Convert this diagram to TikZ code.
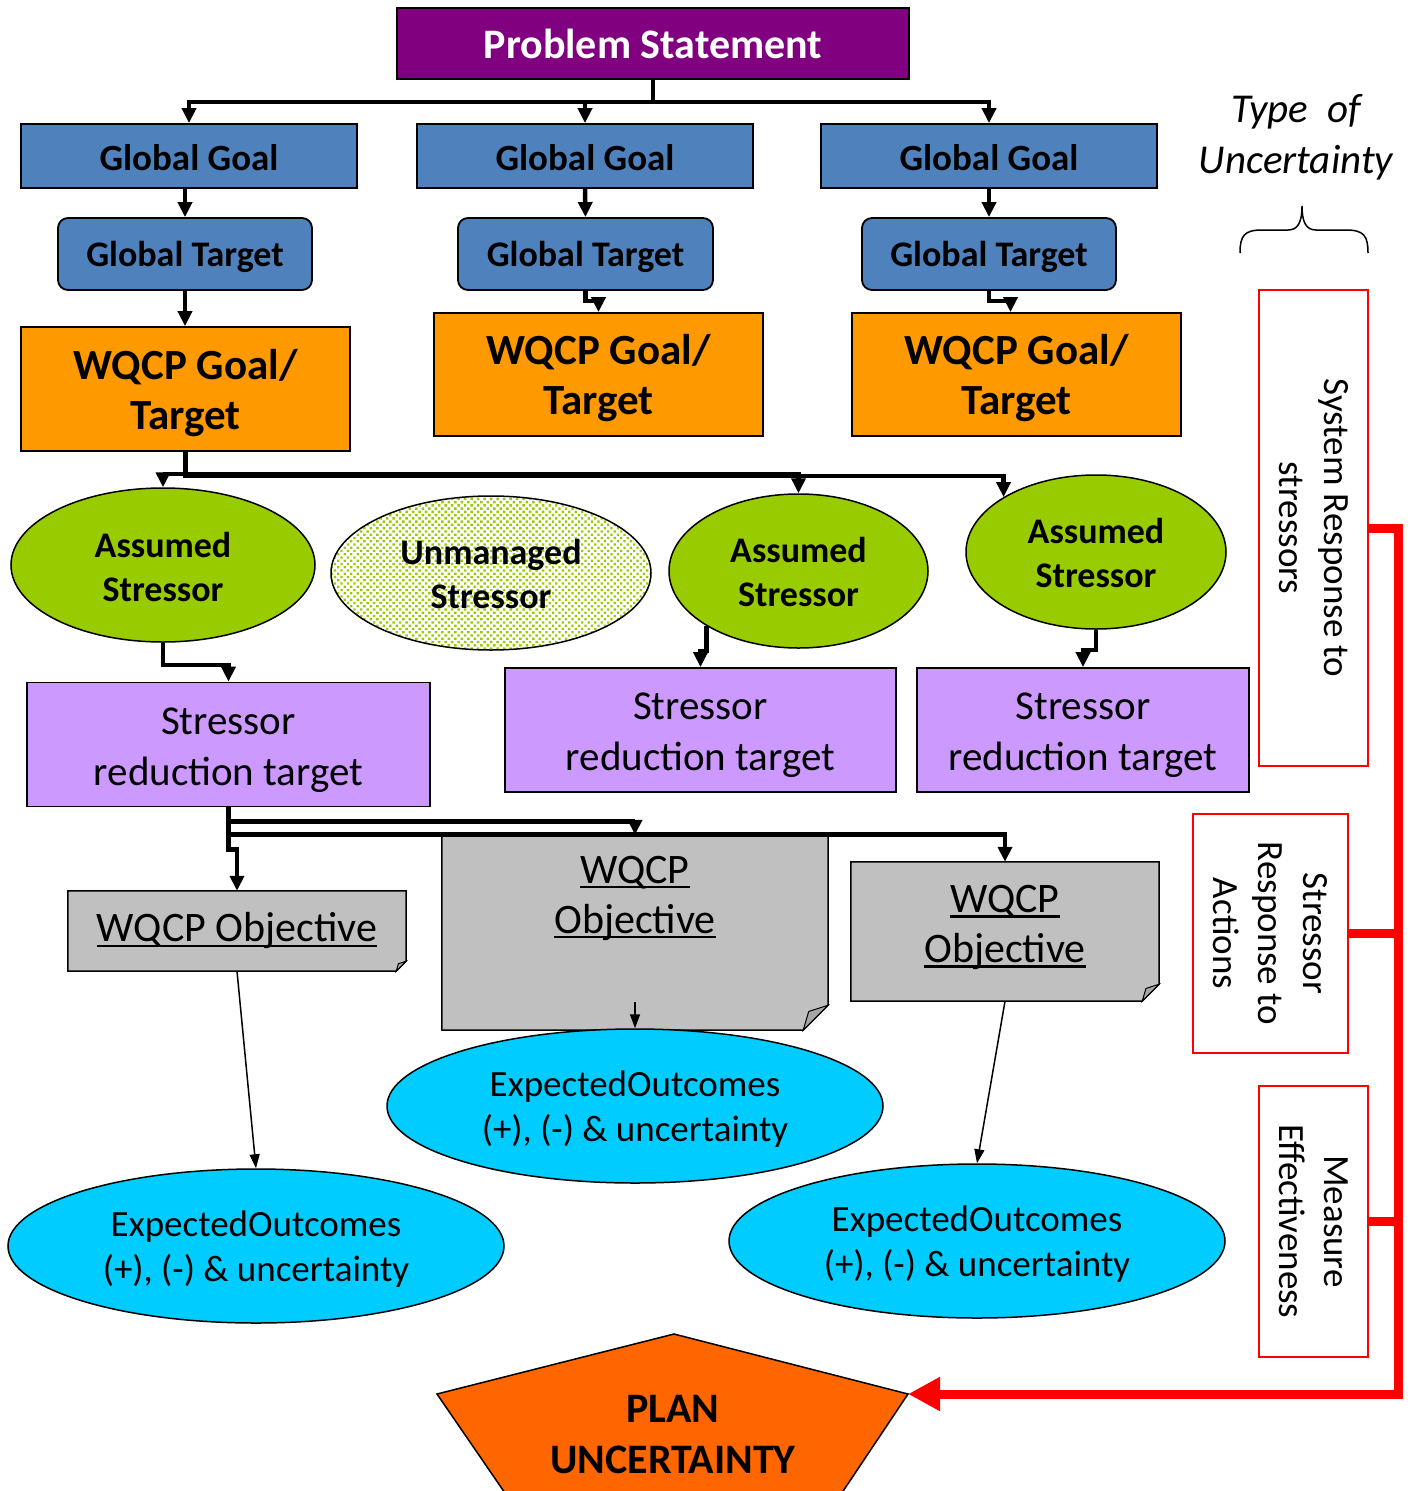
\documentclass[tikz,border=0pt]{standalone}
\usepackage{fontspec}
\setmainfont{Carlito}
\usetikzlibrary{arrows.meta,shapes.geometric,patterns.meta,backgrounds}
\definecolor{cPurple}{HTML}{800080}
\definecolor{cBlue}{HTML}{4F81BD}
\definecolor{cOrange}{HTML}{FF9900}
\definecolor{cGreen}{HTML}{99CC00}
\definecolor{cLilac}{HTML}{CC99FF}
\definecolor{cGray}{HTML}{C0C0C0}
\definecolor{cFold}{HTML}{A6A6A6}
\definecolor{cCyan}{HTML}{00CCFF}
\definecolor{cPlan}{HTML}{FF6600}
\definecolor{cRed}{HTML}{FF0000}
\newsavebox\ulbox
\newcommand\myul[1]{\sbox\ulbox{#1}\rlap{\rule[-5pt]{\wd\ulbox}{2.4pt}}\usebox\ulbox}
\newcommand\fs[2]{\fontsize{#1}{#2}\selectfont}
% text lines, lowered by #1 pt without changing the box used for centring
\newcommand\tl[2]{\raisebox{-#1pt}[\height][\depth]{\begin{tabular}{@{}c@{}}#2\end{tabular}}}
\newcommand\foldshape[2]{%
  \begin{pgfonlayer}{background}
  \path[fill=cGray,draw=black,line width=1.5pt] (#1.north west) -- (#1.north east)
     -- ([yshift=#2pt]#1.south east) -- ([xshift=-#2pt]#1.south east) -- (#1.south west) -- cycle;
  \path[fill=cFold,draw=black,line width=1pt] ([yshift=#2pt]#1.south east)
     -- ([xshift={-0.78*#2pt},yshift={0.75*#2pt}]#1.south east) -- ([xshift=-#2pt]#1.south east) -- cycle;
  \end{pgfonlayer}}
\tikzset{
  box/.style={draw=black,line width=1.8pt,inner sep=0pt,align=center},
  psbox/.style={box,fill=cPurple,text=white,font=\bfseries\fs{42}{50}},
  ggbox/.style={box,fill=cBlue,minimum width=336pt,minimum height=64pt,font=\bfseries\fs{37}{44}},
  gtbox/.style={box,fill=cBlue,rounded corners=10pt,minimum width=254pt,minimum height=72pt,font=\bfseries\fs{36}{44}},
  wqbox/.style={box,fill=cOrange,minimum width=329pt,minimum height=123pt,font=\bfseries\fs{43}{50}},
  stbase/.style={box,ellipse,line width=1.5pt,minimum height=154pt,font=\bfseries\fs{36}{44}},
  stbox/.style={stbase,fill=cGreen},
  srbox/.style={box,fill=cLilac,minimum height=124pt,font=\fs{41}{51}},
  objbox/.style={inner sep=0pt,align=center,font=\fs{42}{50}},
  eobox/.style={box,ellipse,fill=cCyan,line width=1.5pt,minimum width=496pt,minimum height=154pt,font=\fs{37}{45}},
  rbox/.style={draw=cRed,line width=2pt,fill=white,rotate=-90,inner sep=0pt,align=center,font=\fs{37}{45}},
  conn/.style={line width=4.5pt,-{Triangle[length=15pt,width=14pt]}},
  thinarrow/.style={line width=1.5pt,-{Triangle[length=14pt,width=10pt]}},
  redline/.style={draw=cRed,line width=9pt},
}
\begin{document}
\begin{tikzpicture}[x=1pt,y=-1pt]
\useasboundingbox (0,0) rectangle (1414,1491);
\clip (0,0) rectangle (1414,1491);

% top
\node[psbox,minimum width=512pt,minimum height=71pt] (ps) at (653,43.5) {\tl{5}{Problem Statement}};
\node[ggbox] (gg1) at (189,156) {\tl{6}{Global Goal}};
\node[ggbox] (gg2) at (585,156) {\tl{6}{Global Goal}};
\node[ggbox] (gg3) at (989,156) {\tl{6}{Global Goal}};
\node[gtbox] (gt1) at (185,254) {\tl{4}{Global Target}};
\node[gtbox,minimum width=255pt] (gt2) at (585.5,254) {\tl{4}{Global Target}};
\node[gtbox] (gt3) at (989,254) {\tl{4}{Global Target}};
\node[wqbox,minimum height=124pt] (wq1) at (185.5,389) {\tl{5}{WQCP Goal/\\Target}};
\node[wqbox] (wq2) at (598.5,374.5) {\tl{5}{WQCP Goal/\\Target}};
\node[wqbox] (wq3) at (1016.5,374.5) {\tl{5}{WQCP Goal/\\Target}};

% stressors
\node[stbox,minimum width=304pt] (as1) at (163,565) {\tl{6}{Assumed\\Stressor}};
\node[stbase,minimum width=320pt,preaction={fill=white},
      pattern={Dots[radius=1.7pt,distance=4.6pt,angle=45]},pattern color=cGreen] (um) at (491,573) {\tl{5}{Unmanaged\\Stressor}};
\node[stbox,minimum width=259pt] (as3) at (798.5,571) {\tl{5}{Assumed\\Stressor}};
\node[stbox,minimum width=260pt] (as4) at (1096,552) {\tl{5}{Assumed\\Stressor}};

\node[srbox,minimum width=403pt] (sr1) at (228.5,744.5) {\tl{5}{Stressor\\reduction target}};
\node[srbox,minimum width=391pt] (sr2) at (700.5,730) {\tl{5}{Stressor\\reduction target}};
\node[srbox,minimum width=332pt] (sr3) at (1083,730) {\tl{5}{Stressor\\reduction target}};

% objectives
\node[objbox,minimum width=338pt,minimum height=80pt] (obj1) at (237,931) {\myul{WQCP Objective}};
\node[objbox,minimum width=386pt,minimum height=195pt] (obj2) at (635,932.5) {};
\node[objbox] (obj2t) at (635,898) {\myul{WQCP}\\\myul{Objective}};
\node[objbox,minimum width=308pt,minimum height=139pt] (obj3) at (1005,931.5) {\tl{-4}{\myul{WQCP}\\\myul{Objective}}};
\foldshape{obj1}{10}
\foldshape{obj2}{25}
\foldshape{obj3}{17}

% outcomes
\node[eobox] (be2) at (635,1106) {\tl{4}{ExpectedOutcomes\\(+), (-) \& uncertainty}};
\node[eobox] (be1) at (256,1246) {\tl{4}{ExpectedOutcomes\\(+), (-) \& uncertainty}};
\node[eobox] (be3) at (977,1241) {\tl{4}{ExpectedOutcomes\\(+), (-) \& uncertainty}};

% plan uncertainty
\coordinate (pright) at (908,1394);
\path[fill=cPlan,draw=black,line width=1.5pt] (674,1334) -- (pright) -- (797,1560) -- (551,1560) -- (437,1394) -- cycle;
\node[font=\bfseries\fs{42}{51},align=center,inner sep=0pt] (pu) at (673,1435) {PLAN\\UNCERTAINTY};

% type of uncertainty
\node[font=\itshape\fs{41}{51},align=center,inner sep=0pt] (tou) at (1296,137) {Type\ \ of\\Uncertainty};
\draw[line width=1.5pt] (1240,253) .. controls (1240,236) and (1244,230) .. (1262,230) -- (1288,230)
  .. controls (1298,230) and (1302,222) .. (1302,206) .. controls (1302,222) and (1306,230) .. (1316,230)
  -- (1346,230) .. controls (1364,230) and (1368,236) .. (1368,253);

% red boxes
\node[rbox,minimum width=476pt,minimum height=109pt] (r1) at (1313.5,528) {System Response to\\stressors};
\node[rbox,minimum width=239pt,minimum height=155pt] (r2) at (1270.5,933.5) {Stressor\\Response to\\Actions};
\node[rbox,minimum width=271pt,minimum height=109pt] (r3) at (1313.5,1221.5) {Measure\\Effectiveness};
\coordinate (bus) at (1398,1394);
\draw[redline,-{Triangle[length=32pt,width=32pt]}] (r1.north) -| (bus) -- (pright);
\draw[redline] (r2.north) -- (r2.north -| bus);
\draw[redline] (r3.north) -- (r3.north -| bus);

% black connectors
\draw[conn] (ps.south) -- ++(0,22) -| (gg1.north);
\draw[conn] (ps.south) -- ++(0,22) -| (gg2.north);
\draw[conn] (ps.south) -- ++(0,22) -| (gg3.north);
\draw[conn] (gt1.north |- gg1.south) -- (gt1.north);
\draw[conn] (gg2.south) -- (gt2.north);
\draw[conn] (gg3.south) -- (gt3.north);
\draw[conn] (gt1.south) -- (gt1.south |- wq1.north);
\draw[conn] (gt2.south) -- ++(0,10) -| (wq2.north);
\draw[conn] (gt3.south) -- ++(0,10) -| ([xshift=-6pt]wq3.north);
\draw[conn] (wq1.south) -- ++(0,22) -| (as1.north);
\draw[conn] (wq1.south) -- ++(0,22) -| (as3.north);
\draw[conn] (wq1.south) -- ++(0,24) -| (as4.north west);
\draw[conn] (as1.south) -- ++(0,22) -| (sr1.north);
\draw[conn] (as3.south west) -- ++(0,25) -| (sr2.north);
\draw[conn] (as4.south) -- ++(0,20) -| (sr3.north);
\draw[conn] (sr1.south) -- ++(0,42) -| (obj1.north);
\draw[conn] (sr1.south) -- ++(0,14) -| (obj2.north);
\draw[conn] (sr1.south) -- ++(0,27) -| (obj3.north);

% thin arrows
\draw[thinarrow] (obj1.south) -- (be1.north);
\draw[thinarrow] ([yshift=28pt]obj2.south) -- (be2.north);
\draw[thinarrow] (obj3.south) -- (be3.north);
\end{tikzpicture}
\end{document}
